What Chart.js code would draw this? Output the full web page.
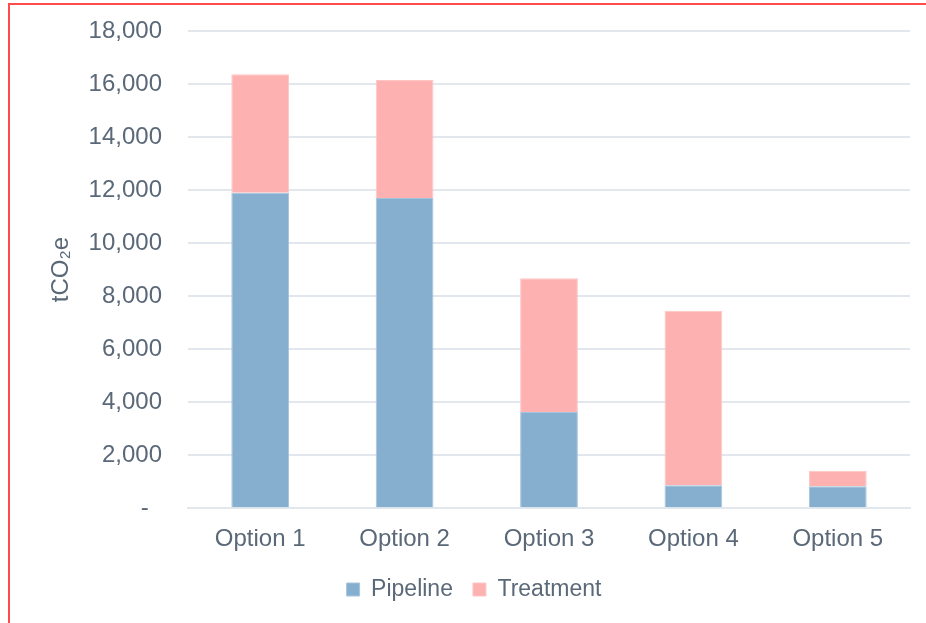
<!DOCTYPE html>
<html>
<head>
<meta charset="utf-8">
<script src="https://cdn.jsdelivr.net/npm/chart.js@4"></script>
<style>
  html, body { margin: 0; padding: 0; background: #fff; }
  #wrap { position: relative; width: 926px; height: 623px; overflow: hidden; }
  #frame { position: absolute; left: 8px; top: 3px; width: 940px; height: 640px; border: 2px solid #ff4b4b; box-sizing: border-box; }
  canvas { position: absolute; left: 0; top: 0; }
</style>
</head>
<body>
<div id="wrap">
  <div id="frame"></div>
  <canvas id="myChart" width="926" height="623"></canvas>
</div>
<script>
'use strict';

// values (tCO2e)
const options = ['Option 1', 'Option 2', 'Option 3', 'Option 4', 'Option 5'];
const pipeline = [11900, 11700, 3630, 870, 830];
const treatment = [4470, 4450, 5040, 6580, 580];
const yMax = 18000;
const yStep = 2000;

const textColor = '#5a6878';
const gridColor = '#e2e7ed';
const fam = 'Liberation Sans, Arial, sans-serif';
const hidden = 'rgba(0,0,0,0)';

const ctx = document.getElementById('myChart').getContext('2d');
const myChart = new Chart(ctx, {
  type: 'bar',
  data: {
    labels: options,
    datasets: [{
      label: 'Pipeline',
      data: pipeline,
      backgroundColor: '#86afcf',
      borderColor: '#a6c4dc',
      borderWidth: 1,
      barPercentage: 0.4,
      categoryPercentage: 1
    }, {
      label: 'Treatment',
      data: treatment,
      backgroundColor: '#fdb2b1',
      borderColor: '#fdc6c5',
      borderWidth: 1,
      barPercentage: 0.4,
      categoryPercentage: 1
    }]
  },
  options: {
    responsive: false,
    animation: false,
    layout: { padding: { left: 38, top: 31, right: 16, bottom: 12 } },
    plugins: {
      legend: {
        position: 'bottom',
        labels: {
          color: textColor,
          font: { family: fam, size: 23 },
          boxWidth: 13,
          boxHeight: 13,
          padding: 20
        }
      },
      tooltip: { enabled: false }
    },
    scales: {
      x: {
        stacked: true,
        // invisible tick marks just give the gap under the axis
        grid: { drawOnChartArea: false, color: hidden, tickColor: hidden, drawTicks: true, tickLength: 13 },
        border: { color: gridColor, width: 2 },
        ticks: {
          color: textColor,
          padding: 4,
          font: { family: fam, size: 24 }
        }
      },
      y: {
        stacked: true,
        min: 0,
        max: yMax,
        afterFit: function (scale) { scale.width = 150; },
        grid: { color: gridColor, lineWidth: 2, drawTicks: true, tickLength: 26, tickColor: hidden },
        border: { display: false },
        ticks: {
          stepSize: yStep,
          color: textColor,
          padding: 0,
          font: { family: fam, size: 24 },
          callback: function (v) { return v === 0 ? '-  ' : v.toLocaleString('en-US'); }
        },
        title: {
          display: true,
          text: 'tCO\u2082e',
          color: textColor,
          padding: { top: 9, bottom: 0 },
          font: { family: fam, size: 24 }
        }
      }
    }
  }
});
</script>
</body>
</html>
